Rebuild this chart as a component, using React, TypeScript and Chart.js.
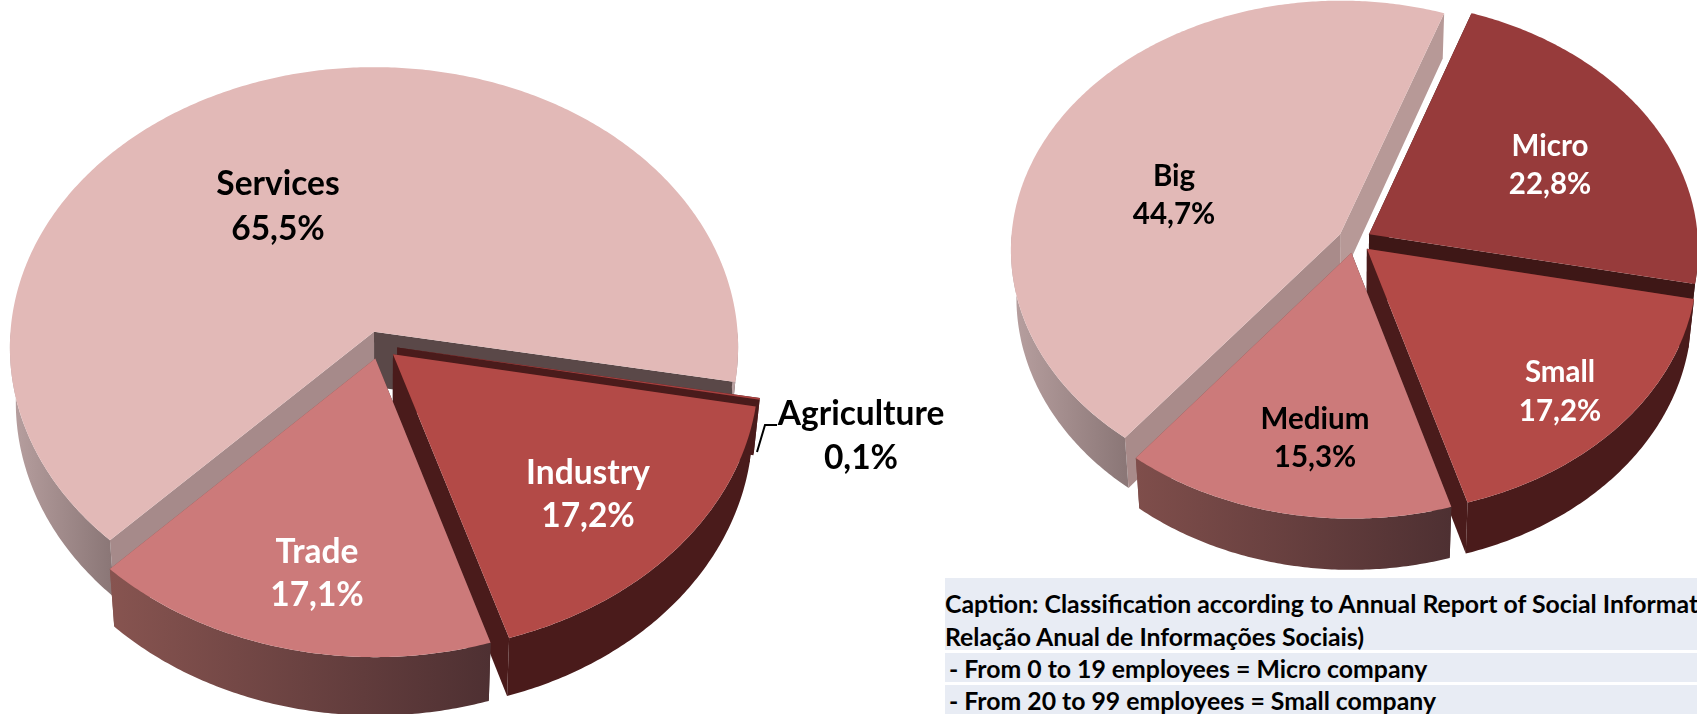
import React, { useEffect, useRef } from "react";
import { Chart, PieController, registerables } from "chart.js";

// ---- data ----
const sectorCategories = ["Services", "Agriculture", "Industry", "Trade"];
const sectorValues = [65.5, 0.1, 17.2, 17.1];
const sizeCategories = ["Micro", "Small", "Medium", "Big"];
const sizeValues = [22.8, 17.2, 15.3, 44.7];
const captionLines = [
  "Caption: Classification according to Annual Report of Social Information (RAIS -",
  "Relação Anual de Informações Sociais)",
  " - From 0 to 19 employees = Micro company",
  " - From 20 to 99 employees = Small company",
];

// ---- styles ----
const sectorTop = ["#E2B9B7", "#A8403F", "#B34A47", "#CC7A7A"];
const sectorWall = [["#B8A0A0", "#8B7777"], ["#4A1B1B", "#4A1B1B"], ["#4A1B1B", "#4A1B1B"], ["#875450", "#4E3032"]];
const sectorCut = [["#A68A8A", "#5A4848"], ["#4A1B1B", "#4A1B1B"], ["#4A1B1B", "#4A1B1B"], ["#4E3032", "#875450"]];
const sectorLabelColor = ["#000", "#000", "#fff", "#fff"];
const sizeTop = ["#973B3B", "#B34A47", "#CC7A7A", "#E2B9B7"];
const sizeWall = [["#3E1716", "#3E1716"], ["#4A1B1B", "#4A1B1B"], ["#7F4E4B", "#4E3032"], ["#B8A0A0", "#8B7777"]];
const sizeCut = [["#3E1716", "#3E1716"], ["#4A1B1B", "#4A1B1B"], ["#4E3032", "#7F4E4B"], ["#A98B8A", "#B79997"]];
const sizeLabelColor = ["#fff", "#fff", "#000", "#000"];

// ---- layout ----
const W = 1697;
const H = 714;
const sectorView = { cx: 379.5, cy: 345, radius: 364.5, k: 0.77, p: 0.055, depth: 55, explode: 18, shrink: 0.984, rotation: 224.2 };
const sizeView = { cx: 1354.6, cy: 240.4, radius: 329, k: 0.755, p: 0.06, depth: 48, explode: 16.6, shrink: 0.984, rotation: 19.4 };
const sectorLabelPos = [[278, 184, 229], [861, 414, 458], [588, 473, 516], [317, 552, 595]];
const sizeLabelPos = [[1550, 146, 184], [1560, 372, 411], [1315, 419, 457], [1174, 176, 214]];
const FONT_FAMILY = "Lato, 'Noto Sans', sans-serif";

type View = typeof sectorView;

class Pie3DController extends PieController {
  static id = "pie3d";
  draw() {
    const chart: any = (this as any).chart;
    const ctx: CanvasRenderingContext2D = chart.ctx;
    const arcs: any[] = (this as any)._cachedMeta.data;
    const o = chart.options.plugins.pie3d;
    const v: View = o.view;
    const mid = (a: any) => (a.startAngle + a.endAngle) / 2;
    const order = arcs.map((_, i) => i).sort((i, j) => Math.sin(mid(arcs[i])) - Math.sin(mid(arcs[j])));
    for (const i of order) {
      const arc = arcs[i];
      const cx = arc.x;
      const cy = arc.y;
      const R = arc.outerRadius;
      const m = mid(arc);
      const project = (a: number, r: number) => {
        const X = v.explode * Math.cos(m) + r * Math.cos(a);
        const Y = v.explode * Math.sin(m) + r * Math.sin(a);
        const w = 1 / (1 - (v.p * Y) / R);
        return [cx + X * w, cy + v.k * Y * w, w];
      };
      const down = (pt: number[]) => [cx + (pt[0] - cx) * v.shrink, pt[1] + v.depth * pt[2]];
      const poly = (pts: number[][], fill: any) => {
        ctx.beginPath();
        pts.forEach((q, n) => (n ? ctx.lineTo(q[0], q[1]) : ctx.moveTo(q[0], q[1])));
        ctx.closePath();
        ctx.fillStyle = fill;
        ctx.fill();
      };
      const s = arc.startAngle;
      const e = arc.endAngle;
      const sweep = (from: number, to: number) => {
        const n = Math.max(2, Math.ceil((to - from) / 0.01));
        const out: number[][] = [];
        for (let t = 0; t <= n; t++) out.push(project(from + ((to - from) * t) / n, R));
        return out;
      };
      // radial cut faces
      const apex = project(0, 0);
      const a0 = project(s, R);
      const a1 = project(e, R);
      poly([apex, a0, down(a0), down(apex)], o.cut[i][0]);
      poly([apex, a1, down(a1), down(apex)], o.cut[i][1]);
      // outer rim, front half only
      for (let n = -1; n <= 2; n++) {
        const from = Math.max(s, n * 2 * Math.PI);
        const to = Math.min(e, n * 2 * Math.PI + Math.PI);
        if (to <= from) continue;
        const rim = sweep(from, to);
        const bottom = rim.map(down).reverse();
        const xs = rim.map((q) => q[0]);
        const g = ctx.createLinearGradient(Math.min(...xs), 0, Math.max(...xs), 0);
        g.addColorStop(0, o.wall[i][0]);
        g.addColorStop(1, o.wall[i][1]);
        poly([...rim, ...bottom], g);
      }
      // top surface
      poly([apex, ...sweep(s, e)], arc.options.backgroundColor);
    }
  }
}

Chart.register(...registerables, Pie3DController);

const labelPlugin = {
  id: "pieLabels",
  afterDatasetsDraw(chart: any) {
    const o = chart.options.plugins.pie3d;
    const ctx: CanvasRenderingContext2D = chart.ctx;
    ctx.save();
    ctx.textAlign = "center";
    ctx.textBaseline = "middle";
    ctx.font = `bold ${o.fontSize}px ${FONT_FAMILY}`;
    chart.data.labels.forEach((name: string, i: number) => {
      const value = chart.data.datasets[0].data[i];
      const pos = o.labelPos[i];
      ctx.fillStyle = o.labelColor[i];
      ctx.fillText(name, pos[0], pos[1]);
      ctx.fillText(value.toFixed(1).replace(".", ",") + "%", pos[0], pos[2]);
    });
    if (o.leader) {
      ctx.strokeStyle = "#000";
      ctx.lineWidth = 2;
      ctx.beginPath();
      o.leader.forEach((q: number[], n: number) => (n ? ctx.lineTo(q[0], q[1]) : ctx.moveTo(q[0], q[1])));
      ctx.stroke();
    }
    ctx.restore();
  },
};

function buildConfig(labels: string[], data: number[], view: View, top: string[], wall: string[][], cut: string[][], labelPos: number[][], labelColor: string[], fontSize: number, leader?: number[][]): any {
  return {
    type: "pie3d",
    data: {
      labels,
      datasets: [{ data, backgroundColor: top, borderWidth: 0, radius: view.radius, rotation: view.rotation, clip: false }],
    },
    plugins: [labelPlugin],
    options: {
      responsive: false,
      animation: false,
      events: [],
      layout: {
        padding: {
          left: Math.max(0, 2 * view.cx - W),
          right: Math.max(0, W - 2 * view.cx),
          top: Math.max(0, 2 * view.cy - H),
          bottom: Math.max(0, H - 2 * view.cy),
        },
      },
      plugins: {
        legend: { display: false },
        tooltip: { enabled: false },
        pie3d: { view, wall, cut, labelPos, labelColor, fontSize, leader },
      },
    },
  };
}

const bandStyle = (top: number, height: number): React.CSSProperties => ({
  position: "absolute",
  left: 945,
  top,
  width: W - 945,
  height,
  background: "#E8ECF4",
});
const lineStyle = (top: number): React.CSSProperties => ({
  position: "absolute",
  left: 943,
  top,
  height: 32,
  lineHeight: "32px",
  whiteSpace: "pre",
  font: `bold 24.8px ${FONT_FAMILY}`,
  color: "#000",
});

export default function App() {
  const leftRef = useRef<HTMLCanvasElement>(null);
  const rightRef = useRef<HTMLCanvasElement>(null);
  useEffect(() => {
    const a = new Chart(
      leftRef.current!,
      buildConfig(sectorCategories, sectorValues, sectorView, sectorTop, sectorWall, sectorCut, sectorLabelPos, sectorLabelColor, 33.5, [[757, 452], [765, 425], [777, 425]])
    );
    const b = new Chart(
      rightRef.current!,
      buildConfig(sizeCategories, sizeValues, sizeView, sizeTop, sizeWall, sizeCut, sizeLabelPos, sizeLabelColor, 29.5)
    );
    return () => {
      a.destroy();
      b.destroy();
    };
  }, []);
  return (
    <div style={{ position: "absolute", left: 0, top: 0, width: W, height: H, overflow: "hidden", background: "#fff" }}>
      <div style={bandStyle(578, 72)} />
      <div style={bandStyle(653, 29)} />
      <div style={bandStyle(685, 29)} />
      <div style={{ ...lineStyle(589), left: 945 }}>{captionLines[0]}</div>
      <div style={{ ...lineStyle(622), left: 945 }}>{captionLines[1]}</div>
      <div style={lineStyle(654)}>{captionLines[2]}</div>
      <div style={lineStyle(686)}>{captionLines[3]}</div>
      <canvas ref={leftRef} width={W} height={H} style={{ position: "absolute", left: 0, top: 0 }} />
      <canvas ref={rightRef} width={W} height={H} style={{ position: "absolute", left: 0, top: 0 }} />
    </div>
  );
}
